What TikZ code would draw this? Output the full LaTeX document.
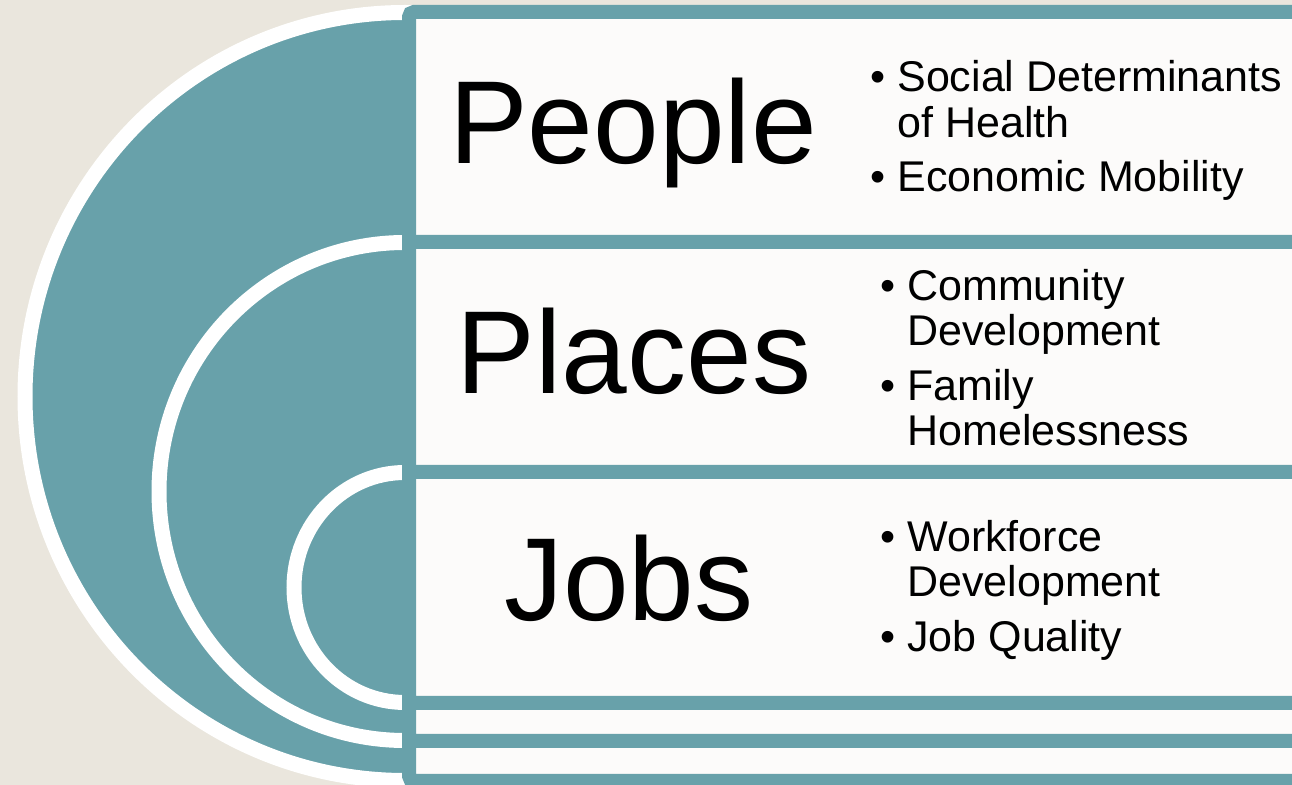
\documentclass[tikz,border=0pt]{standalone}
\usepackage{fontspec}
\setmainfont{Liberation Sans}
\definecolor{sea}{RGB}{104,161,170}
\definecolor{sand}{RGB}{234,230,221}
\definecolor{paper}{RGB}{252,251,250}

\begin{document}
\begin{tikzpicture}
    [x=0.5pt, y=-0.5pt,
    disk/.style={fill=sea, draw=white, line width=7.5pt},
    panel/.style={fill=paper, draw=sea, line width=7pt, rounded corners=2.5pt},
    title/.style={anchor=base, inner sep=0pt, font=\fontsize{59}{70}\selectfont},
    item/.style={anchor=base west, inner sep=0pt, font=\fontsize{21.5}{26}\selectfont},
    dot/.style={anchor=base west, inner sep=0pt, font=\fontsize{21.5}{26}\selectfont}]
    \fill[sand] (0,0) rectangle (1292,785);
    \useasboundingbox (0,0) rectangle (1292,785);
    % rings
    \draw[disk] (405,396.5) ellipse [x radius=380, y radius=384];
    \draw[disk] (405,491.5) ellipse [x radius=246, y radius=249];
    \draw[disk] (405,587.5) ellipse [x radius=111, y radius=115];
    % panels
    \draw[panel] (409,12) rectangle (1330,781);
    \draw[panel] (409,242) rectangle (1330,741);
    \draw[panel] (409,472) rectangle (1330,703);
    \node[title] (people) at (633,164) {People};
    \node[title] (places) at (634,394) {Places};
    \node[title] (jobs)   at (629,621) {Jobs};
    \node[dot]  (pd1) at (870,92)  {•};
    \node[item] (p1a) at (897,92)  {Social Determinants};
    \node[item] (p1b) at (897,138) {of Health};
    \node[dot]  (pd2) at (870,192) {•};
    \node[item] (p2a) at (897,192) {Economic Mobility};
    \node[dot]  (ld1) at (880,301) {•};
    \node[item] (l1a) at (907,301) {Community};
    \node[item] (l1b) at (907,346) {Development};
    \node[dot]  (ld2) at (880,401) {•};
    \node[item] (l2a) at (907,401) {Family};
    \node[item] (l2b) at (907,446) {Homelessness};
    \node[dot]  (jd1) at (880,552) {•};
    \node[item] (j1a) at (907,552) {Workforce};
    \node[item] (j1b) at (907,597) {Development};
    \node[dot]  (jd2) at (880,652) {•};
    \node[item] (j2a) at (907,652) {Job Quality};
\end{tikzpicture}
\end{document}
